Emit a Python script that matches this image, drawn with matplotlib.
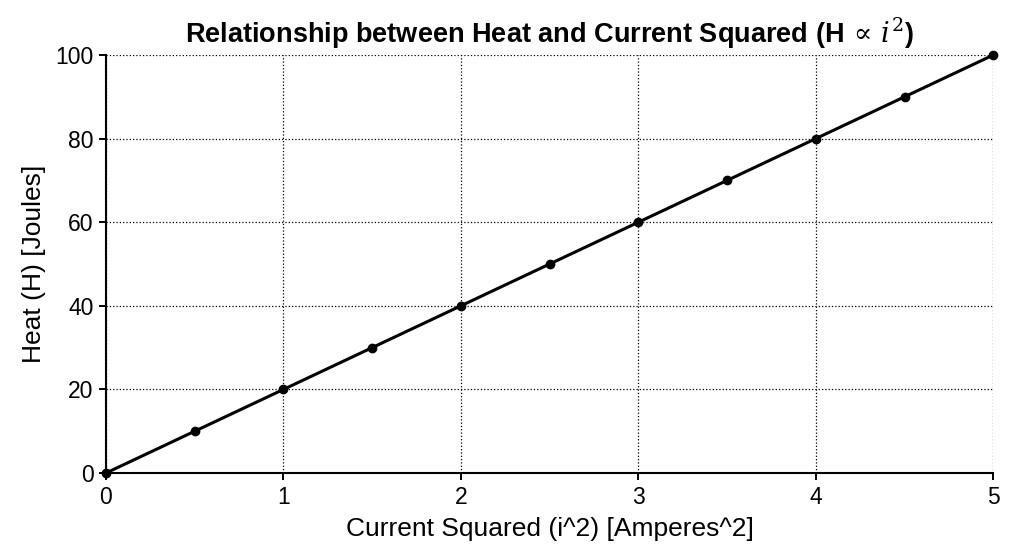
import numpy as np
import matplotlib.pyplot as plt

plt.rcParams['font.family'] = ['Liberation Sans', 'DejaVu Sans']
plt.rcParams['mathtext.fontset'] = 'dejavuserif'

# data
current_sq = [0, 0.5, 1, 1.5, 2, 2.5, 3, 3.5, 4, 4.5, 5]
heat = [0, 10, 20, 30, 40, 50, 60, 70, 80, 90, 100]
x_ticks = [0, 1, 2, 3, 4, 5]
y_ticks = [0, 20, 40, 60, 80, 100]

fig = plt.figure(figsize=(10.24, 5.59), dpi=100)
ax = fig.add_axes([0.1035, 0.1538, 0.8665, 0.7478])

ax.plot(current_sq, heat, color='black', linewidth=2.2, marker='o', markersize=6,
        clip_on=False, zorder=3)

ax.set_xlim(0, 5)
ax.set_ylim(0, 100)
ax.set_xticks(x_ticks)
ax.set_yticks(y_ticks)
ax.tick_params(labelsize=16.5, length=5, width=1.4, direction='out', pad=4)
ax.grid(True, linestyle=':', color='black', linewidth=0.9)

for side in ['top', 'right']:
    ax.spines[side].set_visible(False)
for side in ['left', 'bottom']:
    ax.spines[side].set_linewidth(1.5)

ax.set_xlabel("Current Squared (i^2) [Amperes^2]", fontsize=19, labelpad=6)
ax.set_ylabel("Heat (H) [Joules]", fontsize=19, labelpad=7)
ax.set_title(r"Relationship between Heat and Current Squared (H$\,\propto\, i^2$)",
             fontsize=19.5, fontweight='bold', pad=9)

fig.savefig("out.png", dpi=100)
